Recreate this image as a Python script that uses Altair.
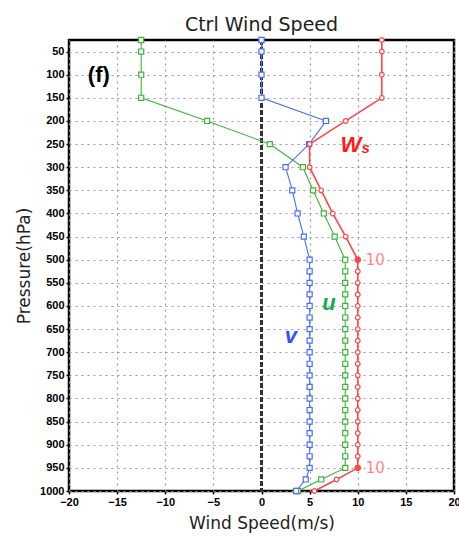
import altair as alt
import pandas as pd

# ---- data ----
levels = [25, 50, 100, 150, 200, 250, 300, 350, 400, 450, 500,
          525, 550, 575, 600, 625, 650, 675, 700, 725, 750, 775, 800,
          825, 850, 875, 900, 925, 950, 975, 1000]

u_vals = [-12.5, -12.5, -12.5, -12.5, -5.65, 0.86, 4.3, 5.36, 6.47, 7.6, 8.7,
          8.7, 8.7, 8.7, 8.7, 8.7, 8.7, 8.7, 8.7, 8.7, 8.7, 8.7, 8.7,
          8.7, 8.7, 8.7, 8.7, 8.7, 8.7, 6.2, 3.8]

v_vals = [0.0, 0.0, 0.0, 0.0, 6.7, 4.95, 2.5, 3.2, 3.75, 4.4, 5.0,
          5.0, 5.0, 5.0, 5.0, 5.0, 5.0, 5.0, 5.0, 5.0, 5.0, 5.0, 5.0,
          5.0, 5.0, 5.0, 5.0, 5.0, 5.0, 4.6, 3.6]

ws_vals = [12.5, 12.5, 12.5, 12.5, 8.75, 5.0, 5.0, 6.2, 7.4, 8.75, 10.0,
           10.0, 10.0, 10.0, 10.0, 10.0, 10.0, 10.0, 10.0, 10.0, 10.0, 10.0, 10.0,
           10.0, 10.0, 10.0, 10.0, 10.0, 10.0, 7.8, 5.5]

mark10_levels = [500, 950]
mark10_vals = [10.0, 10.0]
mark10_text = ["10", "10"]

x_ticks = [-20, -15, -10, -5, 0, 5, 10, 15, 20]
y_ticks = [50, 100, 150, 200, 250, 300, 350, 400, 450, 500, 550, 600,
           650, 700, 750, 800, 850, 900, 950, 1000]

RED = "#ff4747"
GREEN = "#3cb43c"
BLUE = "#4a6cff"

df_u = pd.DataFrame({"p": levels, "x": u_vals})
df_v = pd.DataFrame({"p": levels, "x": v_vals})
df_ws = pd.DataFrame({"p": levels, "x": ws_vals})
df_10 = pd.DataFrame({"p": mark10_levels, "x": mark10_vals, "t": mark10_text})

xs = alt.Scale(domain=[-20, 20], nice=False, zero=False)
ys = alt.Scale(domain=[25, 1000], reverse=True, nice=False, zero=False)

x_axis = alt.Axis(values=x_ticks, format="d", labelFontWeight="bold",
                  labelFontSize=11, labelFont="Liberation Sans",
                  labelPadding=2, titlePadding=8, titleFontSize=17,
                  titleFont="DejaVu Sans", titleFontWeight="normal",
                  labelOverlap=False, labelFlush=False,
                  grid=True, ticks=True, tickSize=3, tickWidth=1.5,
                  tickColor="black", domain=False,
                  title="Wind Speed(m/s)")
y_axis = alt.Axis(values=y_ticks, format="d", labelFontWeight="bold",
                  labelFontSize=11, labelFont="Liberation Sans",
                  labelPadding=2, titlePadding=6, titleFontSize=17,
                  titleFont="DejaVu Sans", titleFontWeight="normal",
                  labelOverlap=False, labelFlush=False,
                  grid=True, ticks=True, tickSize=3, tickWidth=1.5,
                  tickColor="black", domain=False,
                  title="Pressure(hPa)")


def XE():
    return alt.X("x:Q", scale=xs, axis=x_axis)


def YE():
    return alt.Y("p:Q", scale=ys, axis=y_axis)


zero_rule = alt.Chart(df_ws).mark_rule(color="#333333", strokeDash=[5, 2],
                                       strokeWidth=1.5).encode(x=alt.datum(0))


def series(df, color, shape, width):
    line = alt.Chart(df).mark_line(color=color, strokeWidth=width).encode(
        x=XE(), y=YE(), order="p:Q")
    pts = alt.Chart(df).mark_point(shape=shape, filled=True, fill="white",
                                   stroke=color, strokeWidth=1.2,
                                   size=26 if shape == "square" else 22,
                                   opacity=1).encode(x=XE(), y=YE())
    return line + pts


u_layer = series(df_u, GREEN, "square", 1.1)
v_layer = series(df_v, BLUE, "square", 1.1)
ws_layer = series(df_ws, RED, "circle", 1.6)

dots10 = alt.Chart(df_10).mark_point(shape="circle", filled=True, color=RED,
                                     size=40, opacity=1).encode(x=XE(), y=YE())
text10 = alt.Chart(df_10).mark_text(align="left", baseline="middle", dx=8,
                                    fontSize=15, color="#ff8c8c",
                                    font="DejaVu Sans").encode(
    x=XE(), y=YE(), text="t:N")

# annotation labels
ann_f = pd.DataFrame({"x": [-16.9], "p": [100], "t": ["(f)"]})
ann_W = pd.DataFrame({"x": [8.2], "p": [267], "t": ["W"]})
ann_s = pd.DataFrame({"x": [10.4], "p": [269], "t": ["s"]})
ann_u = pd.DataFrame({"x": [7.0], "p": [608], "t": ["u"]})
ann_v = pd.DataFrame({"x": [3.05], "p": [680], "t": ["v"]})


def label(df, color, size, align="center", italic=True):
    return alt.Chart(df).mark_text(
        align=align, baseline="alphabetic", fontSize=size, fontWeight="bold",
        fontStyle="italic" if italic else "normal", color=color,
        font="Liberation Sans").encode(x=XE(), y=YE(), text="t:N")


lab_f = alt.Chart(ann_f).mark_text(align="center", baseline="middle",
                                   fontSize=22, fontWeight="bold",
                                   color="black", font="Liberation Sans").encode(
    x=XE(), y=YE(), text="t:N")
lab_W = label(ann_W, "#ff1a1a", 22, align="left")
lab_s = label(ann_s, "#ff1a1a", 15, align="left")
lab_u = label(ann_u, "#10aa50", 22)
lab_v = label(ann_v, "#3050ff", 22)

chart = alt.layer(
    zero_rule, u_layer, v_layer, ws_layer, dots10, text10,
    lab_f, lab_W, lab_s, lab_u, lab_v
).properties(
    width=385, height=451,
    background="white",
    title=alt.TitleParams("Ctrl Wind Speed", fontSize=19, font="DejaVu Sans",
                          fontWeight="normal", color="#222222", offset=0),
    autosize=alt.AutoSizeParams(type="none"),
    padding={"left": 69, "top": 40, "right": 5, "bottom": 45},
).configure_view(
    stroke="black", strokeWidth=2.5
).configure_axis(
    gridColor="#9a9a9a", gridDash=[2, 4], gridWidth=1.2, labelColor="black",
    titleColor="#222222", labelOverlap=False
)

chart.save("out.html", embed_options={"renderer": "svg", "actions": False})
